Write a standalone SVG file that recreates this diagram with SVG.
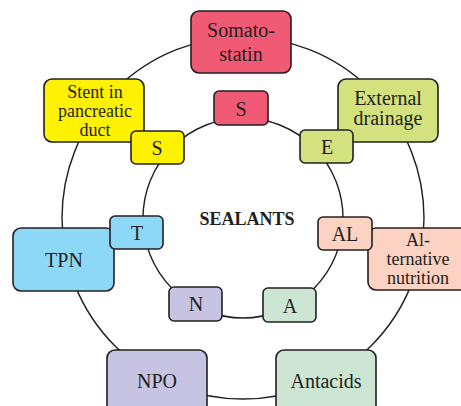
<svg xmlns="http://www.w3.org/2000/svg" width="461" height="406" viewBox="0 0 461 406">
<style>
.ring{fill:none;stroke:#231f20;stroke-width:1.4}
.box{stroke:#231f20;stroke-width:1.6}
.t{font-size:20px;fill:#231f20;text-anchor:middle}
.m{font-size:18px}
.title{font-weight:bold;font-size:18px}
.red{fill:#f05a75}.yel{fill:#fff200}.grn{fill:#d3e17e}.blu{fill:#8dd8f7}.sal{fill:#fcd2c2}.lav{fill:#c6c4e2}.mnt{fill:#cde6d4}
</style>
<rect width="461" height="406" fill="#fff"/>
<g id="connectors">
<circle class="ring" cx="243" cy="218" r="181"/>
<circle class="ring" cx="243" cy="218" r="100"/>
</g>
<g font-family="'Liberation Serif', 'Times New Roman', serif">
<text class="t title" x="247" y="225">SEALANTS</text>
<g id="somatostatin"><rect class="box red" x="191" y="11" width="100" height="62" rx="8"/><text class="t" x="241" y="37">Somato-</text><text class="t" x="241" y="61">statin</text></g>
<g id="stent"><rect class="box yel" x="44" y="79" width="100" height="63" rx="8"/><text class="t m" x="95" y="98">Stent in</text><text class="t m" x="95" y="117">pancreatic</text><text class="t m" x="95" y="136">duct</text></g>
<g id="external"><rect class="box grn" x="338" y="79" width="100" height="63" rx="8"/><text class="t" x="388" y="105">External</text><text class="t" x="388" y="125">drainage</text></g>
<g id="tpn"><rect class="box blu" x="13" y="228" width="101" height="63" rx="8"/><text class="t" x="64" y="267">TPN</text></g>
<g id="alternative"><rect class="box sal" x="368" y="228" width="100" height="62" rx="8"/><text class="t m" x="418" y="246">Al-</text><text class="t m" x="418" y="265">ternative</text><text class="t m" x="418" y="284">nutrition</text></g>
<g id="npo"><rect class="box lav" x="107" y="350" width="100" height="70" rx="8"/><text class="t" x="157" y="388">NPO</text></g>
<g id="antacids"><rect class="box mnt" x="276" y="350" width="100" height="70" rx="8"/><text class="t" x="326" y="388">Antacids</text></g>
<g id="s1"><rect class="box red" x="214" y="91" width="54" height="34" rx="5"/><text class="t" x="241" y="116">S</text></g>
<g id="e"><rect class="box grn" x="300" y="130" width="53" height="33" rx="5"/><text class="t" x="327" y="154">E</text></g>
<g id="s2"><rect class="box yel" x="131" y="131" width="53" height="33" rx="5"/><text class="t" x="157" y="155">S</text></g>
<g id="tn"><rect class="box blu" x="110" y="216" width="53" height="33" rx="5"/><text class="t" x="137" y="240">T</text></g>
<g id="al"><rect class="box sal" x="318" y="217" width="54" height="33" rx="5"/><text class="t" x="345" y="241">AL</text></g>
<g id="n"><rect class="box lav" x="169" y="287" width="53" height="34" rx="5"/><text class="t" x="196" y="311">N</text></g>
<g id="a"><rect class="box mnt" x="263" y="288" width="53" height="34" rx="5"/><text class="t" x="290" y="313">A</text></g>
</g>
</svg>
